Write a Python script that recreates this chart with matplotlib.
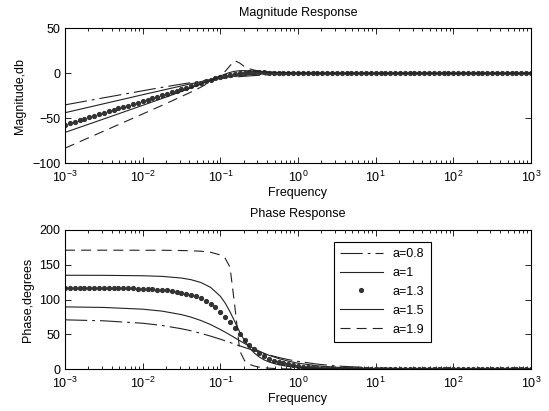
import numpy as np
import matplotlib
matplotlib.use('Agg')
import matplotlib.pyplot as plt

plt.rcParams['font.family'] = ['Liberation Sans', 'DejaVu Sans']
plt.rcParams['mathtext.fontset'] = 'custom'
plt.rcParams['mathtext.rm'] = 'Liberation Sans'
plt.rcParams['mathtext.default'] = 'regular'
plt.rcParams['font.size'] = 9

# frequency points (log10) used for the line curves
line_exp = [-3, -2.5, -2, -1.75, -1.5, -1.375, -1.25, -1.125, -1, -0.9375,
            -0.875, -0.8125, -0.75, -0.6875, -0.625, -0.5625, -0.5, -0.4375,
            -0.375, -0.25, -0.125, 0, 0.25, 0.5, 1, 1.5, 2, 3]

# magnitude (dB)
mag_08 = [-35.1, -27.2, -19.4, -15.6, -12.0, -10.3, -8.7, -7.2, -5.9, -5.3,
          -4.7, -4.2, -3.7, -3.3, -2.9, -2.5, -2.2, -1.9,
          -1.7, -1.3, -1.0, -0.75, -0.44, -0.27, -0.1, -0.04, -0.02, 0]
mag_10 = [-43.8, -33.8, -23.8, -18.9, -14.0, -11.6, -9.3, -7.2, -5.3, -4.5,
          -3.7, -3.0, -2.5, -2.0, -1.5, -1.2, -0.9, -0.7,
          -0.55, -0.32, -0.18, -0.1, -0.03, -0.01, 0, 0, 0, 0]
mag_15 = [-65.7, -50.7, -35.6, -28.0, -20.1, -16.1, -11.9, -7.5, -3.0, -0.85,
          1.0, 2.3, 2.9, 3.0, 2.7, 2.4, 2.0, 1.6,
          1.3, 0.9, 0.6, 0.4, 0.16, 0.07, 0.01, 0, 0, 0]
mag_19 = [-83.2, -64.2, -45.2, -35.6, -25.8, -20.7, -15.4, -9.5, -2.4, 2.2,
          8.5, 14.0, 11.4, 7.3, 5.0, 3.5, 2.5, 1.9,
          1.4, 0.8, 0.4, 0.25, 0.08, 0.03, 0, 0, 0, 0]

# phase (degrees)
phase_08 = [71.0, 69.6, 66.1, 62.9, 58.2, 55.2, 51.6, 47.6, 43.2, 40.9,
            38.5, 36.1, 33.7, 31.3, 29.0, 26.8, 24.6, 22.5,
            20.6, 17.0, 13.9, 11.3, 7.4, 4.7, 1.9, 0.8, 0.3, 0]
phase_10 = [89.6, 88.8, 86.3, 83.5, 78.5, 74.8, 70.0, 64.2, 57.1, 53.3,
            49.3, 45.2, 41.1, 37.0, 33.2, 29.5, 26.1, 23.0,
            20.2, 15.4, 11.7, 8.8, 5.0, 2.8, 0.9, 0.3, 0.1, 0]
phase_15 = [135.0, 134.9, 134.3, 133.4, 131.0, 128.6, 124.6, 117.6, 104.9, 95.1,
            82.6, 68.1, 53.5, 40.8, 30.8, 23.3, 17.7, 13.6,
            10.6, 6.5, 4.1, 2.6, 1.0, 0.4, 0.1, 0, 0, 0]
phase_19 = [171.0, 171.0, 170.9, 170.9, 170.5, 170.2, 169.5, 168.0, 164.2, 159.4,
            146.4, 89.5, 26.6, 12.2, 7.1, 4.6, 3.1, 2.2,
            1.6, 0.8, 0.5, 0.3, 0.1, 0, 0, 0, 0, 0]

# a=1.3 is drawn as dots, 16 per decade from 1e-3 to 1e3
dot_mag = [-56.9, -55.3, -53.7, -52.1, -50.4, -48.8, -47.2, -45.6, -43.9, -42.3, -40.7, -39.0, -37.4, -35.8, -34.1, -32.5,
           -30.8, -29.2, -27.5, -25.9, -24.2, -22.6, -20.9, -19.2, -17.5, -15.8, -14.1, -12.4, -10.6, -8.9, -7.2, -5.6,
           -4.0, -2.6, -1.4, -0.4, 0.3, 0.7, 0.9, 1.0, 1.0, 0.9, 0.8, 0.7, 0.6, 0.5, 0.5, 0.4,
           0.3, 0.3, 0.2, 0.2, 0.2, 0.1, 0.1, 0.1, 0.1, 0.1, 0.1, 0, 0, 0, 0, 0,
           0, 0, 0, 0, 0, 0, 0, 0, 0, 0, 0, 0, 0, 0, 0, 0,
           0, 0, 0, 0, 0, 0, 0, 0, 0, 0, 0, 0, 0, 0, 0, 0,
           0]
dot_phase = [116.9, 116.9, 116.9, 116.9, 116.8, 116.8, 116.8, 116.7, 116.7, 116.6, 116.5, 116.4, 116.3, 116.2, 116.0, 115.8,
             115.5, 115.2, 114.9, 114.4, 113.9, 113.2, 112.4, 111.4, 110.2, 108.7, 106.9, 104.6, 101.8, 98.4, 94.2, 89.0,
             82.8, 75.6, 67.5, 58.9, 50.2, 42.0, 34.7, 28.5, 23.2, 19.0, 15.4, 12.6, 10.3, 8.5, 6.9, 5.7,
             4.7, 3.9, 3.2, 2.6, 2.2, 1.8, 1.5, 1.2, 1.0, 0.8, 0.7, 0.6, 0.5, 0.4, 0.3, 0.3,
             0.2, 0.2, 0.2, 0.1, 0.1, 0.1, 0.1, 0.1, 0, 0, 0, 0, 0, 0, 0, 0,
             0, 0, 0, 0, 0, 0, 0, 0, 0, 0, 0, 0, 0, 0, 0, 0,
             0]

labels = ['a=0.8', 'a=1', 'a=1.3', 'a=1.5', 'a=1.9']

freq_line = 10.0 ** np.array(line_exp)
freq_dot = np.logspace(-3, 3, len(dot_mag))

ink = '#222222'


def draw_curves(ax, c08, c10, cdot, c15, c19):
    ax.semilogx(freq_line, c08, color=ink, lw=0.8, dashes=(20, 4.5, 2.5, 4.5), label=labels[0])
    ax.semilogx(freq_line, c10, color=ink, lw=0.8, label=labels[1])
    ax.semilogx(freq_dot, cdot, '.', color='#333333', ms=5.5, label=labels[2])
    ax.semilogx(freq_line, c15, color=ink, lw=0.8, label=labels[3])
    ax.semilogx(freq_line, c19, color=ink, lw=0.8, dashes=(9, 5.5), label=labels[4])


def style_axes(ax):
    ax.set_xlim(1e-3, 1e3)
    ax.set_xticks([1e-3, 1e-2, 1e-1, 1e0, 1e1, 1e2, 1e3])
    ax.tick_params(which='both', direction='in', top=True, right=True, colors='k', labelsize=9)
    ax.tick_params(which='major', length=4, width=0.6)
    ax.tick_params(which='minor', length=2, width=0.6)
    ax.tick_params(axis='x', which='major', pad=5)
    for sp in ax.spines.values():
        sp.set_linewidth(0.8)
        sp.set_color('k')


fig = plt.figure(figsize=(5.49, 4.11), dpi=100)

ax1 = fig.add_axes([0.1184, 0.6027, 0.8488, 0.3284])
draw_curves(ax1, mag_08, mag_10, dot_mag, mag_15, mag_19)
style_axes(ax1)
ax1.set_ylim(-100, 50)
ax1.set_yticks([-100, -50, 0, 50])
ax1.set_title('Magnitude Response', fontsize=9, pad=9)
ax1.set_xlabel('Frequency', fontsize=9, labelpad=1)
ax1.set_ylabel('Magnitude,db', fontsize=9, labelpad=4)

ax2 = fig.add_axes([0.1184, 0.1015, 0.8488, 0.3389])
draw_curves(ax2, phase_08, phase_10, dot_phase, phase_15, phase_19)
style_axes(ax2)
ax2.set_ylim(0, 200)
ax2.set_yticks([0, 50, 100, 150, 200])
ax2.set_title('Phase Response', fontsize=9, pad=9)
ax2.set_xlabel('Frequency', fontsize=9, labelpad=1)
ax2.set_ylabel('Phase,degrees', fontsize=9, labelpad=4)

leg = ax2.legend(loc='upper left', bbox_to_anchor=(0.577, 0.915), fontsize=9,
                 fancybox=False, edgecolor='k', framealpha=1, handlelength=3.4,
                 handletextpad=0.8, labelspacing=0.55, borderpad=0.5, borderaxespad=0)
leg.get_frame().set_linewidth(0.8)

fig.savefig('out.png', dpi=100)
